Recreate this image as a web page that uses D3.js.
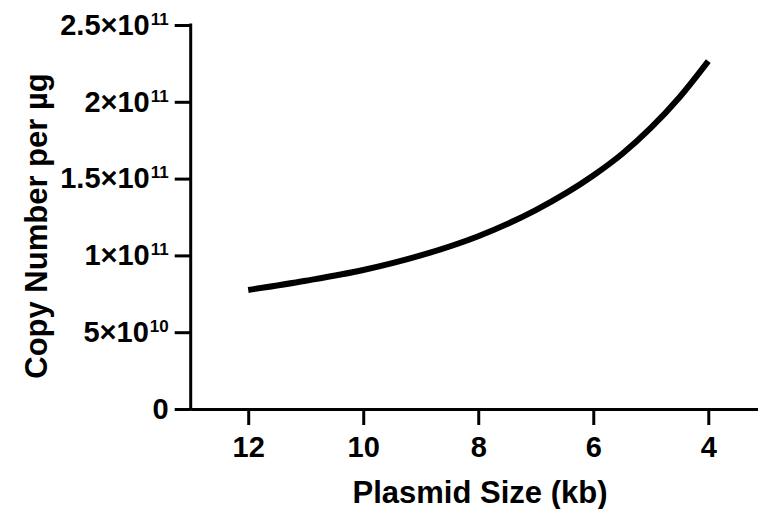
<!DOCTYPE html>
<html>
<head>
<meta charset="utf-8">
<script src="https://cdn.jsdelivr.net/npm/d3@7"></script>
<style>
    body { margin: 0; background: #fff; }
    svg { display: block; }
    .axis path, .axis line { stroke: #000; stroke-width: 3px; }
    .axis text { font-family: "Liberation Sans", Arial, sans-serif; font-weight: bold; fill: #000; }
    .title { font-family: "Liberation Sans", Arial, sans-serif; font-weight: bold; font-size: 31px; fill: #000; }
</style>
</head>
<body>
<div id="chart"></div>
<script>
// Data (plasmid size in kb, copies per µg)
const sizes = [12, 11, 10, 9, 8, 7, 6, 5.5, 5, 4.5, 4];
const copies = [7.75e10, 8.35e10, 9.05e10, 1.0e11, 1.125e11, 1.295e11, 1.52e11, 1.66e11, 1.83e11, 2.03e11, 2.265e11];

const xTicks = [12, 10, 8, 6, 4];
const yTicks = [0, 5e10, 1e11, 1.5e11, 2e11, 2.5e11];
const yTickBase = ["0", "5×10", "1×10", "1.5×10", "2×10", "2.5×10"];
const yTickExp = ["", "10", "11", "11", "11", "11"];

const svgWidth = 758,
    svgHeight = 509;
const margin = { top: 25, left: 190.7 };
const height = 409 - margin.top;
const width = 765.8 - margin.left;

const data = sizes.map(function(s, i) { return { size: s, value: copies[i] }; });

const x = d3.scaleLinear().domain([13, 3]).range([0, width]);
const y = d3.scaleLinear().domain([0, 2.5e11]).range([height, 0]);

const svg = d3.select("#chart")
    .append("svg")
    .attr("width", svgWidth)
    .attr("height", svgHeight);

const g = svg.append("g")
    .attr("transform", `translate(${margin.left},${margin.top})`);

// x axis
const xAxis = d3.axisBottom(x)
    .tickValues(xTicks)
    .tickSize(16)
    .tickSizeOuter(0)
    .tickPadding(11)
    .tickFormat(d3.format("d"));

g.append("g")
    .attr("class", "x axis")
    .attr("transform", `translate(0,${height})`)
    .call(xAxis)
    .call(function(a) {
        a.selectAll("text").style("font-size", "29px");
        a.selectAll(".tick line").attr("y1", 1.5);
    });

// y axis
const yAxis = d3.axisLeft(y)
    .tickValues(yTicks)
    .tickSize(16)
    .tickSizeOuter(0)
    .tickPadding(6)
    .tickFormat("");

const yG = g.append("g")
    .attr("class", "y axis")
    .call(yAxis);

yG.select(".domain").attr("d", `M0,${height + 1.5}V${-1.5}`);

yG.selectAll(".tick text")
    .style("font-size", "29px")
    .each(function(d, i) {
        const t = d3.select(this);
        t.text(null);
        t.append("tspan").text(yTickBase[i]);
        if (yTickExp[i] !== "") {
            t.append("tspan")
                .attr("dy", "-10")
                .attr("dx", "1")
                .style("font-size", "17px")
                .text(yTickExp[i]);
        }
    });

// curve
const line = d3.line()
    .curve(d3.curveMonotoneX)
    .x(function(d) { return x(d.size); })
    .y(function(d) { return y(d.value); });

g.append("path")
    .datum(data)
    .attr("d", line)
    .attr("fill", "none")
    .attr("stroke", "#000")
    .attr("stroke-width", 6);

// axis titles
svg.append("text")
    .attr("class", "title")
    .attr("x", 480)
    .attr("y", 503)
    .attr("text-anchor", "middle")
    .text("Plasmid Size (kb)");

svg.append("text")
    .attr("class", "title")
    .attr("transform", "translate(47,226) rotate(-90)")
    .attr("text-anchor", "middle")
    .text("Copy Number per µg");
</script>
</body>
</html>
